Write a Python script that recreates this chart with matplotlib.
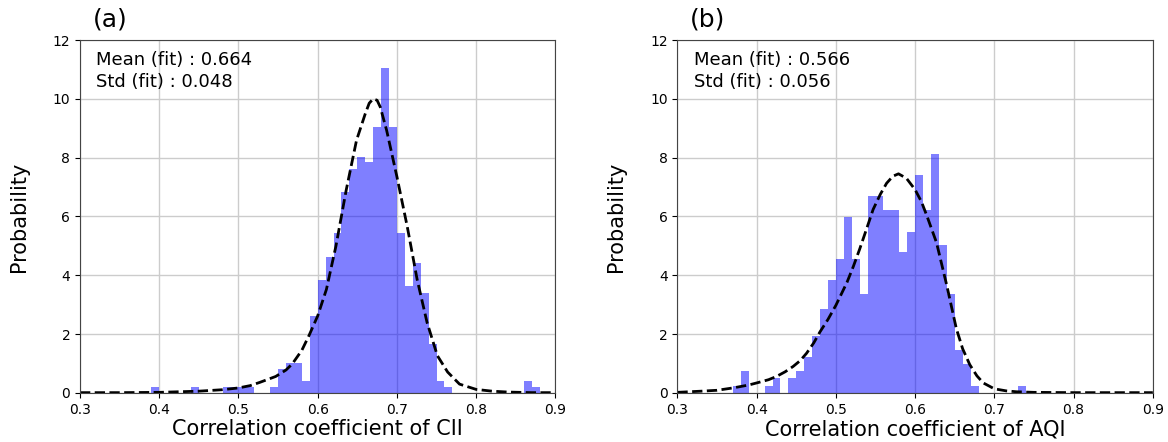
import numpy as np
import matplotlib
matplotlib.use("Agg")
import matplotlib.pyplot as plt

# histogram bars (left edge of 0.01-wide bins, density)
cii_edges = [0.39, 0.44, 0.48, 0.49, 0.50, 0.51, 0.54, 0.55, 0.56, 0.57, 0.58, 0.59,
             0.60, 0.61, 0.62, 0.63, 0.64, 0.65, 0.66, 0.67, 0.68, 0.69, 0.70, 0.71,
             0.72, 0.73, 0.74, 0.75, 0.76, 0.86, 0.87]
cii_dens = [0.2, 0.2, 0.2, 0.2, 0.2, 0.2, 0.2, 0.82, 1.02, 1.02, 0.4, 2.62,
            3.83, 4.62, 5.44, 6.82, 7.63, 8.03, 7.84, 9.04, 11.05, 9.04, 5.44, 3.64,
            4.43, 3.41, 1.66, 0.4, 0.2, 0.4, 0.2]

aqi_edges = [0.37, 0.38, 0.41, 0.42, 0.44, 0.45, 0.46, 0.47, 0.48, 0.49, 0.50, 0.51,
             0.52, 0.53, 0.54, 0.55, 0.56, 0.57, 0.58, 0.59, 0.60, 0.61, 0.62, 0.63,
             0.64, 0.65, 0.66, 0.67, 0.73]
aqi_dens = [0.25, 0.75, 0.25, 0.5, 0.5, 0.75, 1.22, 1.94, 2.87, 3.84, 4.55, 5.99,
            4.55, 3.37, 6.69, 6.69, 6.21, 6.21, 4.80, 5.48, 7.42, 6.21, 8.11, 5.02,
            3.37, 1.46, 0.99, 0.25, 0.25]

# fitted curves, points
cii_fit_x = [0.30, 0.35, 0.40, 0.45, 0.48, 0.50, 0.515, 0.527, 0.547, 0.56, 0.568,
             0.58, 0.589, 0.60, 0.611, 0.623, 0.636, 0.649, 0.66, 0.665, 0.670,
             0.675, 0.679, 0.687, 0.70, 0.713, 0.7255, 0.738, 0.751, 0.764, 0.779,
             0.80, 0.82, 0.84, 0.87, 0.90]
cii_fit_y = [0.01, 0.01, 0.02, 0.06, 0.11, 0.17, 0.25, 0.36, 0.56, 0.78, 0.99,
             1.45, 1.95, 2.62, 3.52, 4.99, 6.9, 8.59, 9.49, 9.85, 10.0,
             9.95, 9.72, 8.93, 7.35, 5.66, 3.86, 2.4, 1.27, 0.71, 0.30,
             0.12, 0.06, 0.03, 0.01, 0.01]

aqi_fit_x = [0.30, 0.33, 0.35, 0.37, 0.39, 0.40, 0.415, 0.425, 0.436, 0.446, 0.455,
             0.463, 0.472, 0.48, 0.49, 0.50, 0.514, 0.522, 0.530, 0.539, 0.547,
             0.556, 0.564, 0.572, 0.579, 0.589, 0.60, 0.608, 0.615, 0.627, 0.64,
             0.652, 0.66, 0.669, 0.678, 0.686, 0.70, 0.715, 0.728, 0.75, 0.80, 0.90]
aqi_fit_y = [0.02, 0.06, 0.09, 0.17, 0.27, 0.34, 0.45, 0.56, 0.72, 0.9, 1.1,
             1.35, 1.7, 2.08, 2.5, 2.98, 3.76, 4.3, 4.89, 5.6, 6.24,
             6.75, 7.13, 7.37, 7.45, 7.30, 6.91, 6.5, 6.01, 5.11, 3.65,
             2.19, 1.5, 0.96, 0.58, 0.34, 0.14, 0.07, 0.04, 0.02, 0.01, 0.01]

panels = [
    ("(a)", cii_edges, cii_dens, cii_fit_x, cii_fit_y, 0.664, 0.048, "Correlation coefficient of CII"),
    ("(b)", aqi_edges, aqi_dens, aqi_fit_x, aqi_fit_y, 0.566, 0.056, "Correlation coefficient of AQI"),
]

fig = plt.figure(figsize=(11.68, 4.42), dpi=100)
lefts = [0.0685, 0.580]

for left, (tag, edges, dens, fx, fy, mu, sd, xlabel) in zip(lefts, panels):
    ax = fig.add_axes([left, 0.111, 0.407, 0.7985])
    ax.bar(edges, dens, width=0.01, align="edge", color="blue", alpha=0.5, linewidth=0)
    ax.plot(fx, fy, "k--", linewidth=2)
    ax.set_xlim(0.3, 0.9)
    ax.set_ylim(0, 12)
    ax.set_xticks(np.arange(0.3, 0.91, 0.1))
    ax.set_yticks(range(0, 13, 2))
    ax.tick_params(labelsize=10)
    ax.grid(True, color="#cccccc", linewidth=1)
    ax.set_axisbelow(True)
    ax.set_xlabel(xlabel, fontsize=15, labelpad=2)
    ax.set_ylabel("Probability", fontsize=15, labelpad=17)
    ax.text(0.034, 0.97, f"Mean (fit) : {mu:.3f}\nStd (fit) : {sd:.3f}",
            transform=ax.transAxes, va="top", ha="left", fontsize=13, linespacing=1.3)
    ax.text(0.027, 1.023, tag, transform=ax.transAxes, va="bottom", ha="left", fontsize=18)
    for s in ax.spines.values():
        s.set_color("#444444")

fig.savefig("out.png", dpi=100)
